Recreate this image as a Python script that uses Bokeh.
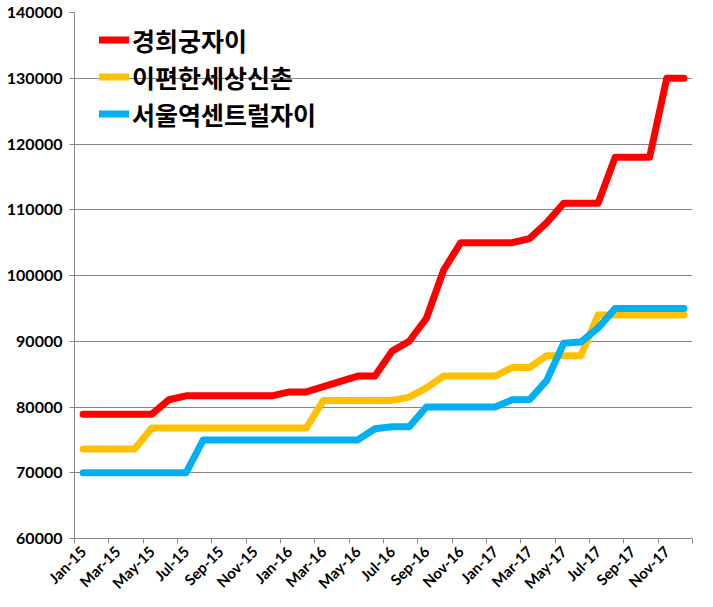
import math
from bokeh.plotting import figure
from bokeh.models import FixedTicker, Legend, LegendItem, ColumnDataSource
from bokeh.embed import file_html
from bokeh.resources import INLINE

months = ["Jan", "Feb", "Mar", "Apr", "May", "Jun", "Jul", "Aug", "Sep", "Oct", "Nov", "Dec"]
categories = [f"{m}-{y}" for y in ("15", "16", "17") for m in months]

series_names = ["경희궁자이", "이편한세상신촌", "서울역센트럴자이"]
gyeonghui = [78900, 78900, 78900, 78900, 78900, 81100, 81700, 81700, 81700, 81700, 81700, 81700,
             82300, 82300, 83100, 83900, 84700, 84700, 88500, 90000, 93500, 100800, 105000, 105000,
             105000, 105000, 105600, 108000, 111000, 111000, 111000, 118000, 118000, 118000, 130000, 130000]
epyeonhan = [73600, 73600, 73600, 73600, 76800, 76800, 76800, 76800, 76800, 76800, 76800, 76800,
             76800, 76800, 81000, 81000, 81000, 81000, 81000, 81500, 82900, 84700, 84700, 84700,
             84700, 86000, 86000, 87800, 87800, 87800, 94000, 94000, 94000, 94000, 94000, 94000]
seoulstation = [70000, 70000, 70000, 70000, 70000, 70000, 70000, 75000, 75000, 75000, 75000, 75000,
                75000, 75000, 75000, 75000, 75000, 76700, 77000, 77000, 80000, 80000, 80000, 80000,
                80000, 81100, 81100, 84000, 89700, 89900, 92000, 95000, 95000, 95000, 95000, 95000]
series_values = [gyeonghui, epyeonhan, seoulstation]
colors = ["#FF0000", "#FFC000", "#00B0F0"]

y_ticks = [60000, 70000, 80000, 90000, 100000, 110000, 120000, 130000, 140000]

xs = list(range(len(categories)))

p = figure(frame_width=618, frame_height=526,
           min_border_left=74, min_border_right=5, min_border_top=12, min_border_bottom=53,
           x_range=(-0.5, len(categories) - 0.5), y_range=(y_ticks[0], y_ticks[-1]),
           output_backend="svg", toolbar_location=None)
p.background_fill_color = "white"
p.border_fill_color = "white"
p.outline_line_color = None

renderers = []
for name, vals, c in zip(series_names, series_values, colors):
    src = ColumnDataSource(dict(x=xs, y=vals))
    r = p.line("x", "y", source=src, line_color=c, line_width=7, line_cap="round", line_join="round")
    renderers.append((name, r))

# x axis
xt = FixedTicker(ticks=xs[::2], minor_ticks=[i - 0.5 for i in range(0, len(categories) + 1, 2)])
p.xaxis.ticker = xt
p.xaxis.major_label_overrides = {i: categories[i] for i in xs}
p.xaxis.major_label_orientation = math.pi / 4
p.xaxis.major_tick_line_color = None
p.xaxis.minor_tick_line_color = "#868686"
p.xaxis.minor_tick_in = 0
p.xaxis.minor_tick_out = 5
p.xaxis.axis_line_color = "#868686"
p.xaxis.major_label_text_font = "Lato"
p.xaxis.major_label_text_font_style = "bold"
p.xaxis.major_label_text_font_size = "15px"
p.xaxis.major_label_text_color = "black"
p.xaxis.major_label_standoff = 4
p.xgrid.grid_line_color = None

# y axis
p.yaxis.ticker = FixedTicker(ticks=y_ticks)
p.yaxis.major_label_overrides = {v: str(v) for v in y_ticks}
p.yaxis.axis_line_color = "#868686"
p.yaxis.major_tick_line_color = "#868686"
p.yaxis.major_tick_in = 0
p.yaxis.major_tick_out = 5
p.yaxis.minor_tick_line_color = None
p.yaxis.major_label_text_font = "Lato"
p.yaxis.major_label_text_font_style = "bold"
p.yaxis.major_label_text_font_size = "16px"
p.yaxis.major_label_text_color = "black"
p.yaxis.major_label_standoff = 7
p.ygrid.grid_line_color = "#868686"
p.ygrid.grid_line_width = 1

legend = Legend(items=[LegendItem(label=n, renderers=[r]) for n, r in renderers],
                location=(25, 406), orientation="vertical")
legend.margin = 0
legend.padding = 0
legend.spacing = 0
legend.border_line_color = None
legend.background_fill_alpha = 0
legend.glyph_width = 30
legend.glyph_height = 37
legend.label_height = 37
legend.label_standoff = 3
legend.label_text_font = "Noto Sans CJK KR"
legend.label_text_font_style = "bold"
legend.label_text_font_size = "25px"
legend.label_text_color = "black"
p.add_layout(legend, "center")

open("out.html", "w").write(file_html(p, INLINE))
